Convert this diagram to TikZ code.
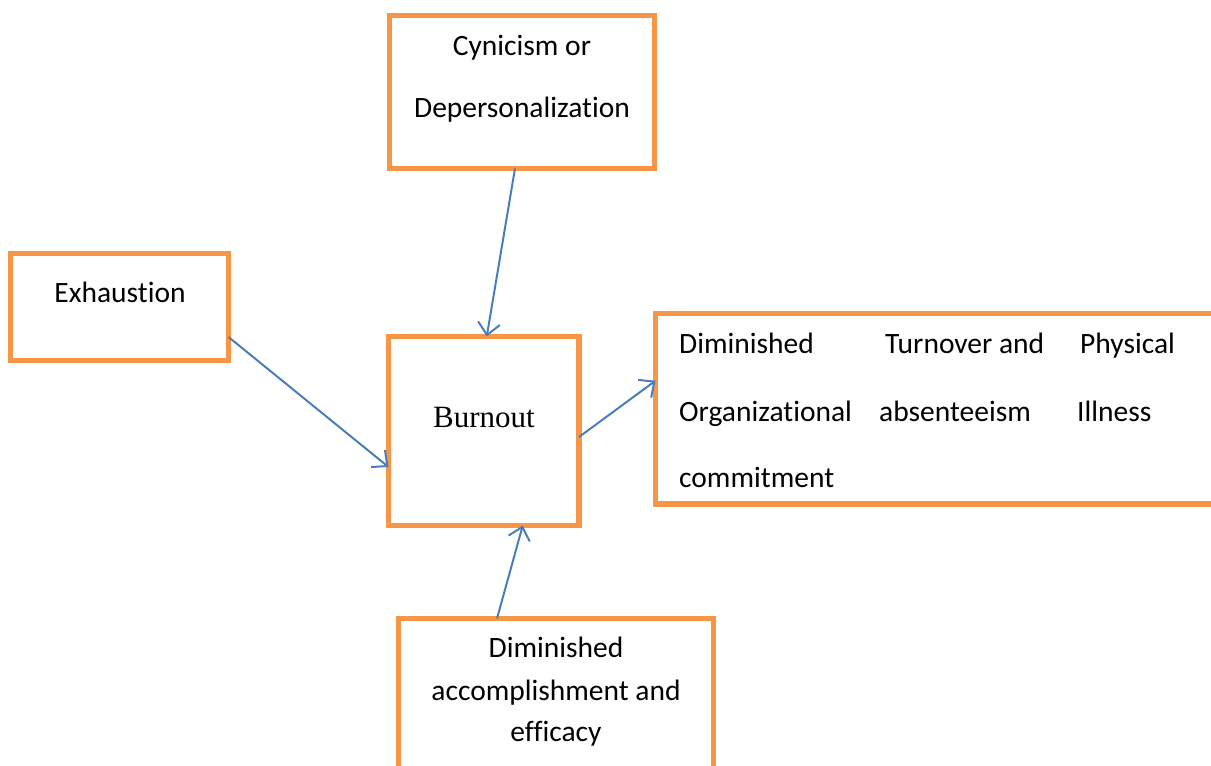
\documentclass[tikz,border=0pt]{standalone}
\usepackage{fontspec}
\setmainfont{Carlito}[RawFeature={-liga}]
\newfontfamily\timesfont{Liberation Serif}
\usetikzlibrary{arrows.meta,calc}
\definecolor{boxorange}{HTML}{F79646}
\definecolor{arrowblue}{HTML}{4A7EBB}
\tikzset{
  box/.style={draw=boxorange, line width=5.5pt, rectangle, outer sep=0pt, inner sep=0pt, fill=white},
  lbl/.style={inner sep=0pt, anchor=base, font=\fontsize{29.5}{31}\selectfont},
  lbll/.style={lbl, anchor=base west},
  conn/.style={draw=arrowblue, line width=2pt, -{Straight Barb[length=12pt,width=22pt,line width=2pt]}}
}
\begin{document}
\begin{tikzpicture}[x=1pt,y=-1pt]
\useasboundingbox (0,0) rectangle (1211,766);
\clip (0,0) rectangle (1211,766);
% boxes
\node[box, minimum width=265pt, minimum height=153pt] (cyn) at (522,92) {};
\node[box, minimum width=218pt, minimum height=107pt] (exh) at (119.5,307) {};
\node[box, minimum width=190.5pt, minimum height=189pt] (burn) at (483.75,431) {};
\node[box, minimum width=600pt, minimum height=190.5pt] (outc) at (955.5,408.75) {};
\node[box, minimum width=315pt, minimum height=200pt] (acc) at (556,718.5) {};
% texts
\node[lbl] (t1) at (522,55) {Cynicism or};
\node[lbl] (t2) at (522,117) {Depersonalization};
\node[lbl] (t3) at (120,302) {Exhaustion};
\node[inner sep=0pt, anchor=base, font=\timesfont\fontsize{31}{33}\selectfont] (t4) at (484,427) {Burnout};
\node[lbll] (o1) at (679,353) {Diminished};
\node[lbll] (o2) at (679,421) {Organizational};
\node[lbll] (o3) at (679,487) {commitment};
\node[lbll] (o4) at (885,353) {Turnover and};
\node[lbll] (o5) at (879,421) {absenteeism};
\node[lbll] (o6) at (1080,353) {Physical};
\node[lbll] (o7) at (1077,421) {Illness};
\node[lbl] (a1) at (556,657) {Diminished};
\node[lbl] (a2) at (556,700) {accomplishment and};
\node[lbl] (a3) at (556,741) {efficacy};
% connectors
\draw[conn] ([xshift=-7pt]cyn.south) -- ([xshift=3pt]burn.north);
\draw[conn] ([yshift=-30pt]exh.east) -- ([yshift=-36pt]burn.west);
\draw[conn] ([yshift=-6pt]burn.east) -- ([yshift=28pt]outc.west);
\draw[conn] ([xshift=-59pt]acc.north) -- ([xshift=39pt]burn.south);
\end{tikzpicture}
\end{document}
